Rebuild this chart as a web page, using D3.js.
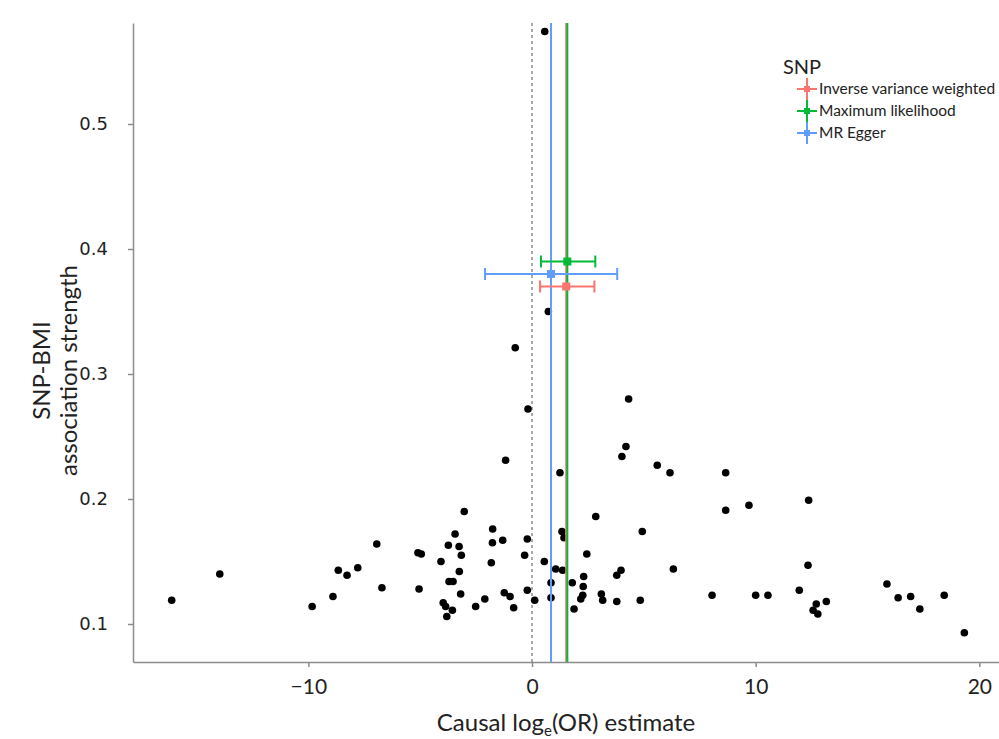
<!DOCTYPE html>
<html>
<head>
<meta charset="utf-8">
<script src="https://cdn.jsdelivr.net/npm/d3@7"></script>
<style>
  body { margin: 0; background: #fff; }
  svg { display: block; }
  .axis path, .axis line { stroke: #8c8c8c; stroke-width: 1.5; }
  .y-axis text { font-family: "DejaVu Sans", sans-serif; font-size: 18px; fill: #222; }
  .x-axis text { font-family: Lato, "Open Sans", sans-serif; font-size: 21px; fill: #222; }
  .title { font-family: Lato, "Open Sans", sans-serif; font-size: 24px; fill: #222; }
  .legend text { font-family: Lato, "Open Sans", sans-serif; fill: #222; }
</style>
</head>
<body>
<svg id="chart"></svg>
<script>
// per-SNP causal estimates (x) and SNP-BMI association strength (y)
const snpEstimate = [
  -16.11, -13.96, -9.83, -8.90, -8.66, -8.27, -7.79, -6.94, -6.71, -5.10, -4.95, -5.05,
  -3.03, -3.44, -3.74, -3.26, -3.16, -4.07, -3.25, -3.71, -3.53, -3.19, -3.97, -3.86,
  -3.56, -3.81, -2.52, -2.11, -1.76, -1.77, -1.31, -1.82, -1.24, -0.98, -0.82, -0.21,
  -0.33, -0.21, 0.12, 0.55, 0.85, 0.85, 1.06, 1.34, 1.43, 1.37, 1.80, 1.88,
  2.85, 2.45, 2.31, 2.29, 2.27, 2.18, 3.10, 3.16, 3.79, 3.98, 3.79, 4.93,
  4.84, 6.32, 8.05, 8.66, 9.70, 12.37, 12.34, 11.95, 10.00, 10.55, 12.71, 12.57,
  12.78, 13.16, 15.87, 16.37, 16.93, 17.34, 18.43, 19.33, 0.73, -0.75, 4.32, -0.18,
  4.20, 4.02, -1.18, 5.60, 6.17, 1.25, 8.66, 0.57
];
const snpStrength = [
  0.119, 0.140, 0.114, 0.122, 0.143, 0.139, 0.145, 0.164, 0.129, 0.157, 0.156, 0.128,
  0.190, 0.172, 0.163, 0.162, 0.155, 0.150, 0.142, 0.134, 0.134, 0.124, 0.117, 0.114,
  0.111, 0.106, 0.114, 0.120, 0.176, 0.165, 0.167, 0.149, 0.125, 0.122, 0.113, 0.168,
  0.155, 0.127, 0.119, 0.150, 0.133, 0.121, 0.144, 0.174, 0.169, 0.143, 0.133, 0.112,
  0.186, 0.156, 0.138, 0.130, 0.123, 0.120, 0.124, 0.119, 0.139, 0.143, 0.118, 0.174,
  0.119, 0.144, 0.123, 0.191, 0.195, 0.199, 0.147, 0.127, 0.123, 0.123, 0.116, 0.111,
  0.108, 0.118, 0.132, 0.121, 0.122, 0.112, 0.123, 0.093, 0.350, 0.321, 0.280, 0.272,
  0.242, 0.234, 0.231, 0.227, 0.221, 0.221, 0.221, 0.574
];

// MR method estimates with confidence intervals
const methods = ["Inverse variance weighted", "Maximum likelihood", "MR Egger"];
const methodEstimate = [1.53, 1.58, 0.85];
const methodLower = [0.36, 0.40, -2.10];
const methodUpper = [2.79, 2.83, 3.81];
const methodRow = [0.370, 0.390, 0.380];
const methodColours = ["#F8766D", "#00BA38", "#619CFF"];

const xTicks = [-10, 0, 10, 20];
const yTicks = [0.1, 0.2, 0.3, 0.4, 0.5];

const width = 999, height = 739;
const plot = {left: 133, right: 999, top: 23, bottom: 662};

const svg = d3.select('#chart')
    .attr('width', width)
    .attr('height', height);

const x = d3.scaleLinear().domain([-17.84, 20.88]).range([plot.left, plot.right]);
const y = d3.scaleLinear().domain([0.0696, 0.5808]).range([plot.bottom, plot.top]);

// axes
svg.append('g')
    .attr('class', 'axis x-axis')
    .attr('transform', `translate(0,${plot.bottom})`)
    .call(d3.axisBottom(x).tickValues(xTicks).tickSize(5).tickSizeOuter(0).tickPadding(12)
      .tickFormat(d => d < 0 ? '\u2212' + Math.abs(d) : d));

svg.append('g')
    .attr('class', 'axis y-axis')
    .attr('transform', `translate(${plot.left},0)`)
    .call(d3.axisLeft(y).tickValues(yTicks).tickSize(5).tickSizeOuter(0).tickPadding(20)
      .tickFormat(d3.format('.1f')));

// zero reference line
svg.append('line')
    .attr('x1', x(0)).attr('x2', x(0))
    .attr('y1', plot.top).attr('y2', plot.bottom)
    .attr('stroke', '#555')
    .attr('stroke-width', 1)
    .attr('stroke-dasharray', '3,3');

// SNP points
svg.append('g').selectAll('circle')
    .data(snpEstimate.map((d, i) => ({x: d, y: snpStrength[i]})))
  .join('circle')
    .attr('cx', d => x(d.x))
    .attr('cy', d => y(d.y))
    .attr('r', 3.8)
    .attr('fill', '#000');

// method vertical lines
const mData = methods.map((m, i) => ({
  name: m, est: methodEstimate[i], lo: methodLower[i], hi: methodUpper[i],
  row: methodRow[i], col: methodColours[i]
}));

svg.append('g').selectAll('line')
    .data([mData[2], mData[0], mData[1]])
  .join('line')
    .attr('x1', d => x(d.est)).attr('x2', d => x(d.est))
    .attr('y1', plot.top).attr('y2', plot.bottom)
    .attr('stroke', d => d.col)
    .attr('stroke-width', 2);

// error bars
const eb = svg.append('g').selectAll('g')
    .data(mData)
  .join('g');

eb.append('line')
    .attr('x1', d => x(d.lo)).attr('x2', d => x(d.hi))
    .attr('y1', d => y(d.row)).attr('y2', d => y(d.row))
    .attr('stroke', d => d.col).attr('stroke-width', 2);
eb.append('line')
    .attr('x1', d => x(d.lo)).attr('x2', d => x(d.lo))
    .attr('y1', d => y(d.row) - 6).attr('y2', d => y(d.row) + 6)
    .attr('stroke', d => d.col).attr('stroke-width', 2);
eb.append('line')
    .attr('x1', d => x(d.hi)).attr('x2', d => x(d.hi))
    .attr('y1', d => y(d.row) - 6).attr('y2', d => y(d.row) + 6)
    .attr('stroke', d => d.col).attr('stroke-width', 2);
eb.append('rect')
    .attr('x', d => x(d.est) - 4).attr('y', d => y(d.row) - 4)
    .attr('width', 8).attr('height', 8)
    .attr('fill', d => d.col);

// axis titles
svg.append('text')
    .attr('class', 'title')
    .attr('text-anchor', 'middle')
    .attr('transform', `translate(52,${(plot.top + plot.bottom) / 2 + 28}) rotate(-90)`)
  .selectAll('tspan')
    .data(['SNP-BMI', 'association strength'])
  .join('tspan')
    .attr('x', 0)
    .attr('dy', (d, i) => i === 0 ? -2 : 27)
    .text(d => d);

const xt = svg.append('text')
    .attr('class', 'title')
    .attr('text-anchor', 'middle')
    .attr('x', (plot.left + plot.right) / 2)
    .attr('y', 731);
xt.append('tspan').text('Causal log');
xt.append('tspan').attr('dy', 5).attr('font-size', 15).text('e');
xt.append('tspan').attr('dy', -5).text('(OR) estimate');

// legend
const legend = svg.append('g').attr('class', 'legend').attr('transform', 'translate(783,0)');
legend.append('text').attr('x', 0).attr('y', 74).attr('font-size', 20).text('SNP');

const keyX = 24, keyTop = 78, keyH = 22;
const keys = legend.selectAll('g.key')
    .data(mData)
  .join('g')
    .attr('class', 'key')
    .attr('transform', (d, i) => `translate(0,${keyTop + i * keyH})`);

keys.append('line')
    .attr('x1', keyX).attr('x2', keyX)
    .attr('y1', 0).attr('y2', keyH)
    .attr('stroke', d => d.col).attr('stroke-width', 2);
keys.append('line')
    .attr('x1', keyX - 10).attr('x2', keyX + 10)
    .attr('y1', keyH / 2).attr('y2', keyH / 2)
    .attr('stroke', d => d.col).attr('stroke-width', 2);
keys.append('rect')
    .attr('x', keyX - 3).attr('y', keyH / 2 - 3)
    .attr('width', 6).attr('height', 6)
    .attr('fill', d => d.col);
keys.append('text')
    .attr('x', 36).attr('y', keyH / 2 + 5)
    .attr('font-size', 15.5)
    .text(d => d.name);
</script>
</body>
</html>
